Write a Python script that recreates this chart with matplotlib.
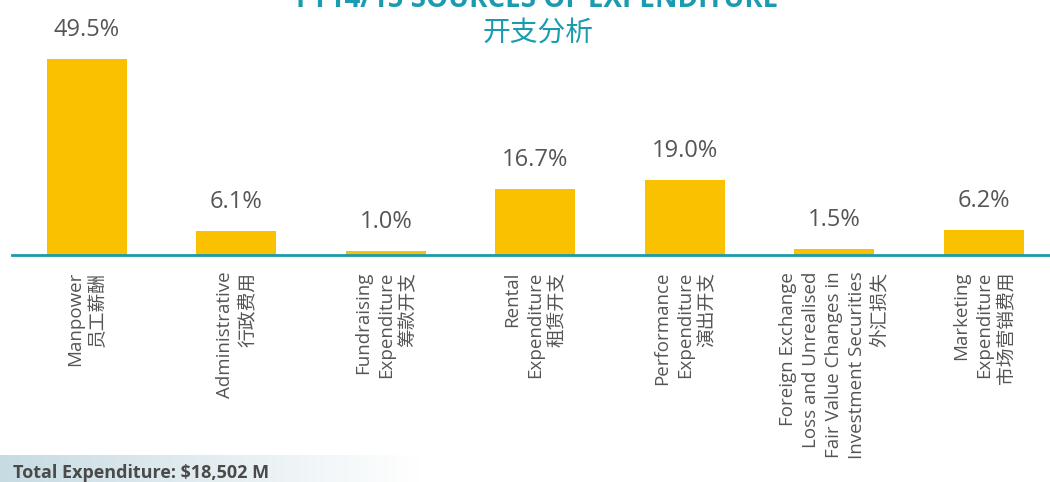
import numpy as np
import matplotlib.pyplot as plt

categories = [
    "Manpower\n员工薪酬",
    "Administrative\n行政费用",
    "Fundraising\nExpenditure\n筹款开支",
    "Rental\nExpenditure\n租赁开支",
    "Performance\nExpenditure\n演出开支",
    "Foreign Exchange\nLoss and Unrealised\nFair Value Changes in\nInvestment Securities\n外汇损失",
    "Marketing\nExpenditure\n市场营销费用",
]
shares = [49.5, 6.1, 1.0, 16.7, 19.0, 1.5, 6.2]

title_en = "FY14/15 SOURCES OF EXPENDITURE"
title_zh = "开支分析"
total_text = "Total Expenditure: $18,502 M"

fonts = ['Open Sans', 'Noto Sans CJK SC', 'DejaVu Sans']
plt.rcParams['font.family'] = fonts

teal = '#1a9bb0'
yellow = '#fac100'
grey = '#555555'

W, H = 1050, 482
fig = plt.figure(figsize=(W / 100, H / 100), dpi=100)

# main axes: baseline at y=255px, bar spacing ~149.5px
left = 12 / W
bottom = (H - 255) / H
ax = fig.add_axes([left, bottom, 1 - left, 1 - bottom])
x = np.arange(len(shares))
ax.bar(x, shares, width=0.535, color=yellow, zorder=2)
ax.set_xlim(-0.5, -0.5 + (W - 12) / 149.5)
ax.set_ylim(0, 255 / 3.96)

for xi, v in zip(x, shares):
    ax.annotate(f"{v:.1f}%", (xi, v), xytext=(0, 21), textcoords='offset points',
                ha='center', va='center', fontsize=17, color=grey)

for s in ['top', 'right', 'left']:
    ax.spines[s].set_visible(False)
ax.spines['bottom'].set_color(teal)
ax.spines['bottom'].set_linewidth(2)
ax.set_yticks([])
ax.set_xticks(x)
ax.set_xticklabels(categories, rotation=90, ha='center', va='top',
                   multialignment='right', fontsize=13.5, color=grey,
                   linespacing=1.35)
ax.tick_params(axis='x', length=0, pad=12)

# english title sits mostly above the top edge, as in the source
fig.text(0.512, 1 - 7 / H, title_en, ha='center', va='baseline',
         fontsize=20, fontweight='bold', color=teal)
fig.text(0.512, 1 - 35 / H, title_zh, ha='center', va='center',
         fontsize=20, color=teal)

# gradient strip behind the total
gax = fig.add_axes([0, 0, 0.40, 27 / H])
grad = np.linspace(0, 1, 256)[None, :]
c0 = np.array([0.78, 0.86, 0.89])
c1 = np.array([1.0, 1.0, 1.0])
img = c0[None, None, :] * (1 - grad[..., None]) + c1[None, None, :] * grad[..., None]
gax.imshow(img, aspect='auto', extent=[0, 1, 0, 1])
gax.axis('off')
fig.text(13 / W, 9 / H, total_text, ha='left', va='center',
         fontsize=13, fontweight='bold', color='#4a4a4a')

fig.savefig('out.png', dpi=100)
